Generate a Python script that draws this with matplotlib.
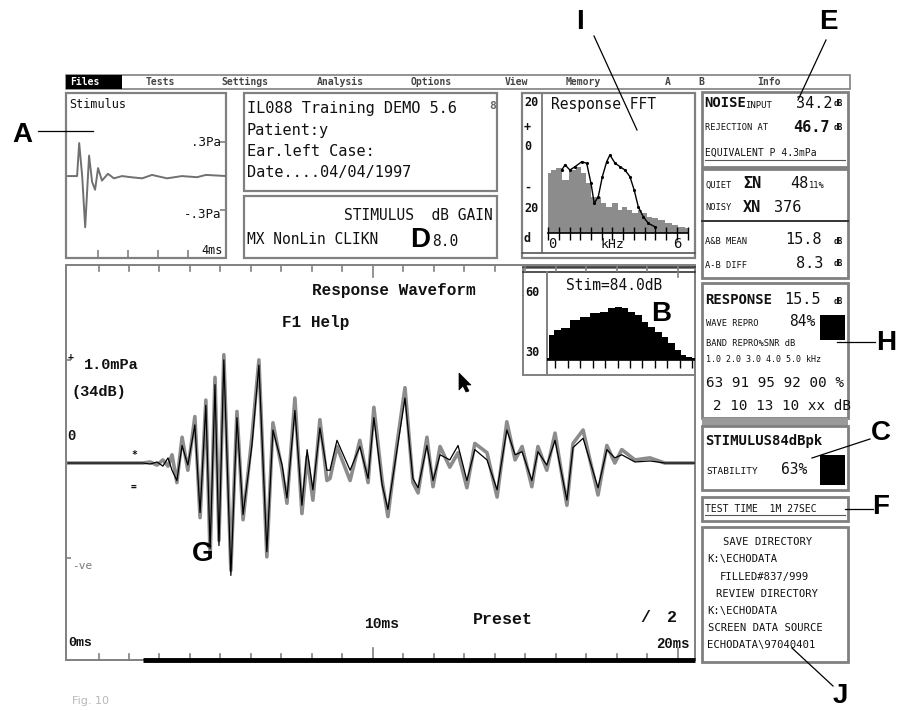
import matplotlib
matplotlib.use("Agg")
import matplotlib.pyplot as plt
import numpy as np
from matplotlib.patches import Rectangle, Polygon

W, H = 918, 710

# stimulus click (ms, Pa)
stim_t = [0.0, 0.30, 0.37, 0.47, 0.57, 0.70, 0.80, 0.90, 1.00, 1.13, 1.33, 1.53,
          1.80, 2.10, 2.47, 2.80, 3.30, 3.80, 4.30, 4.60, 5.30]
stim_pa = [0.0, 0.0, 0.29, 0.0, -0.45, 0.18, -0.05, -0.12, 0.07, -0.04, 0.02, -0.02,
           0.0, -0.01, -0.02, 0.01, -0.02, 0.0, -0.01, 0.01, 0.0]

# response waveform, buffers A (grey) and B (black) (ms, mPa)
resp_t = [0.00, 2.46, 2.69, 2.92, 3.11, 3.28, 3.41, 3.57, 3.74, 3.93,
          4.16, 4.33, 4.52, 4.66, 4.82, 4.95, 5.11, 5.34, 5.54, 5.74,
          6.03, 6.26, 6.52, 6.72, 7.02, 7.18, 7.44, 7.67, 7.84, 8.03,
          8.26, 8.49, 8.59, 8.82, 9.25, 9.57, 9.84, 10.03, 10.30, 10.49,
          10.79, 11.05, 11.31, 11.48, 11.77, 11.97, 12.20, 12.52, 12.79, 13.08,
          13.34, 13.74, 14.07, 14.39, 14.66, 14.89, 15.21, 15.41, 15.70, 15.97,
          16.36, 16.56, 16.89, 17.38, 17.67, 17.93, 18.16, 18.59, 19.08, 19.57,
          20.56]
resp_a = [0.00, 0.00, 0.01, -0.02, 0.03, -0.03, 0.08, -0.19, 0.25, -0.07,
          0.45, -0.53, 0.61, -0.91, 0.83, -0.75, 1.05, -1.04, 0.50, -0.55,
          0.25, 1.00, -0.91, 0.39, -0.07, -0.39, 0.63, -0.49, 0.06, -0.36,
          0.42, -0.17, -0.15, 0.16, -0.17, 0.22, -0.19, 0.54, -0.17, -0.52,
          0.19, 0.73, -0.19, -0.29, 0.25, -0.23, 0.16, -0.04, 0.10, -0.24,
          0.19, 0.10, -0.33, 0.40, 0.03, 0.16, -0.23, 0.16, -0.07, 0.29,
          -0.41, 0.19, 0.32, -0.31, 0.17, 0.00, 0.13, 0.03, 0.05, 0.00,
          0.00]
resp_b = [0.00, 0.00, -0.01, 0.01, -0.03, 0.05, -0.07, -0.17, 0.17, -0.02,
          0.37, -0.48, 0.56, -0.83, 0.76, -0.80, 1.00, -1.09, 0.44, -0.50,
          0.17, 0.95, -0.86, 0.32, -0.02, -0.34, 0.51, -0.41, 0.13, -0.26,
          0.34, -0.07, -0.07, 0.22, -0.07, 0.16, -0.15, 0.44, -0.21, -0.45,
          0.13, 0.63, -0.15, -0.24, 0.17, -0.17, 0.08, 0.03, 0.17, -0.17,
          0.13, 0.03, -0.26, 0.32, 0.08, 0.11, -0.17, 0.11, -0.02, 0.22,
          -0.36, 0.15, 0.24, -0.24, 0.13, 0.05, 0.08, 0.01, 0.02, 0.00,
          0.00]

# response FFT (kHz, dB): grey = response, line = noise
fft_f = [0.0, 0.25, 0.48, 0.79, 1.18, 1.41, 1.64, 1.88, 2.11, 2.34, 2.57, 2.80, 3.12,
         3.35, 3.58, 3.81, 4.05, 4.28, 4.51, 4.74, 4.98, 5.29, 5.60, 5.91, 6.22, 6.53]
fft_db = [-6.9, -5.8, -5.1, -9.6, -5.8, -4.5, -7.1, -10.9, -16.0, -16.0, -18.6, -19.9, -18.6,
          -21.2, -19.9, -21.2, -22.4, -21.2, -22.4, -23.7, -24.4, -25.0, -26.3, -26.9, -27.6, -28.2]
noise_f = [0.64, 0.79, 1.02, 1.26, 1.57, 1.80, 2.00, 2.15, 2.34, 2.53, 2.73, 2.88, 3.12,
           3.35, 3.58, 3.81, 4.01, 4.20, 4.43, 4.67, 4.98]
noise_db = [-5.8, -3.8, -5.8, -4.5, -2.6, -3.2, -10.9, -18.6, -16.0, -8.3, -2.6, 0.0, -3.2,
            -4.5, -5.8, -8.3, -13.5, -19.9, -23.7, -26.3, -27.6]

# stimulus spectrum (kHz, dB)
stim_f = [0.17, 0.37, 0.57, 0.9, 1.3, 1.7, 2.1, 2.5, 2.77, 3.03, 3.3, 3.57, 3.83, 4.1,
          4.37, 4.63, 4.9, 5.17, 5.43, 5.63, 5.83, 6.1]
stim_db = [30.9, 41.2, 43.5, 44.3, 47.9, 49.3, 51.1, 51.5, 53.3, 53.8, 53.3, 51.5, 50.2, 47.0,
           44.8, 42.6, 40.3, 37.6, 34.5, 32.2, 31.3, 30.9]

menu_items = ["Files", "Tests", "Settings", "Analysis", "Options", "View", "Memory", "A", "B", "Info"]
save_lines = ["SAVE DIRECTORY", "K:\\ECHODATA", "FILLED#837/999", "REVIEW DIRECTORY",
              "K:\\ECHODATA", "SCREEN DATA SOURCE", "ECHODATA\\97040401"]

GREY = "#808080"
MONO = "DejaVu Sans Mono"
SERIF = "Liberation Mono"

fig = plt.figure(figsize=(W / 100, H / 100), dpi=100)
fig.patch.set_facecolor("white")


def px_axes(x0, y0, x1, y1):
    ax = fig.add_axes([x0 / W, 1 - y1 / H, (x1 - x0) / W, (y1 - y0) / H])
    ax.set_axis_off()
    ax.patch.set_alpha(0)
    return ax


bg = px_axes(0, 0, W, H)
bg.set_xlim(0, W)
bg.set_ylim(H, 0)


def box(x0, y0, x1, y1, lw=1.6, ec=GREY, fc="none"):
    bg.add_patch(Rectangle((x0, y0), x1 - x0, y1 - y0, fill=(fc != "none"),
                           fc=fc, ec=ec, lw=lw))


def txt(x, y, s, size=9, weight="normal", ha="left", color="#111111", family=MONO):
    bg.text(x, y, s, fontsize=size, fontweight=weight, ha=ha, va="center",
            color=color, family=family)


# menu bar
box(66, 75, 850, 89, lw=1.2)
box(66, 75, 122, 89, lw=0, fc="black")
for lab, x in zip(menu_items, [70, 146, 221, 317, 411, 505, 566, 665, 698, 757]):
    txt(x, 82, lab, size=7, weight="bold", color="white" if lab == "Files" else "#444444")

# stimulus panel
box(66, 93, 226, 258)
txt(69, 104, "Stimulus", size=8.5)
txt(221, 142, ".3Pa", size=9, ha="right")
txt(221, 214, "-.3Pa", size=9, ha="right")
txt(223, 251, "4ms", size=8.5, ha="right")

# patient info
box(244, 93, 497, 191)
txt(247, 108, "IL088 Training DEMO 5.6", size=11)
bg.add_patch(Rectangle((466, 97), 20, 13, fc="white", ec="none"))
txt(489, 106, "8", size=8, weight="bold", color="#666666")
txt(247, 131, "Patient:y", size=11)
txt(247, 152, "Ear.left Case:", size=11)
txt(247, 173, "Date....04/04/1997", size=11)

box(244, 196, 497, 258)
txt(493, 215, "STIMULUS  dB GAIN", size=10.5, ha="right")
txt(247, 240, "MX NonLin CLIKN", size=10.5)
txt(432, 241, "8.0", size=10.5)

# FFT panel frame and labels
box(522, 93, 695, 258)
bg.plot([542, 542], [93, 252], color=GREY, lw=1.4)
bg.plot([522, 695], [253, 253], color="#555555", lw=1.2)
for y, s in [(103, "20"), (127, "+"), (147, "0"), (187, "-"), (209, "20"), (239, "d")]:
    txt(524, y, s, size=8.5, weight="bold")
txt(551, 104, "Response FFT", size=10.5)
txt(548, 244, "0", size=10)
txt(612, 244, "kHz", size=9.5, ha="center")
txt(677, 244, "6", size=10, ha="center")

# response waveform frame and labels
box(66, 265, 695, 660, lw=1.4)
txt(312, 290, "Response Waveform", size=11.5, weight="bold", family=SERIF)
txt(282, 323, "F1 Help", size=11.5, weight="bold", family=SERIF)
txt(68, 357, "+", size=7, weight="bold")
txt(84, 365, "1.0mPa", size=11, weight="bold", family=SERIF)
txt(72, 392, "(34dB)", size=11, weight="bold", family=SERIF)
txt(67, 436, "0", size=10, weight="bold", family=SERIF)
txt(131, 455, "*", size=7, weight="bold")
txt(131, 487, "=", size=7, weight="bold")
txt(72, 566, "-ve", size=8, color="#777777")
txt(68, 643, "0ms", size=9.5, weight="bold", family=SERIF)
txt(364, 624, "10ms", size=10.5, weight="bold", family=SERIF)
txt(473, 620, "Preset", size=12, weight="bold", family=SERIF)
txt(640, 618, "/", size=12, weight="bold", family=SERIF)
txt(667, 618, "2", size=12, weight="bold", family=SERIF)
txt(690, 644, "20ms", size=10, weight="bold", family=SERIF, ha="right")

# stimulus spectrum inset
box(523, 268, 695, 375, lw=1.4)
bg.plot([523, 695], [267, 267], color="#333333", lw=1.2)
bg.plot([523, 695], [272, 272], color="#333333", lw=1.2)
bg.plot([547, 547], [272, 375], color=GREY, lw=1.4)
txt(525, 293, "60", size=8.5, weight="bold")
txt(525, 353, "30", size=8.5, weight="bold")
txt(566, 285, "Stim=84.0dB", size=10.5)

# cursor
bg.add_patch(Polygon([(459, 373), (459, 390), (463, 386), (466, 392), (469, 391),
                      (466, 385), (471, 385)], closed=True, fc="black", ec="black", lw=0.5))

# right column: noise block
box(702, 92, 848, 167, lw=2)
txt(704, 103, "NOISE", size=10, weight="bold")
txt(745, 105, "INPUT", size=6.5)
txt(796, 103, "34.2", size=11)
txt(834, 104, "dB", size=5.5, weight="bold")
txt(705, 128, "REJECTION AT", size=6.3)
txt(793, 127, "46.7", size=11, weight="bold")
txt(834, 128, "dB", size=5.5, weight="bold")
txt(705, 153, "EQUIVALENT P 4.3mPa", size=7)
bg.plot([705, 845], [160, 160], color="#555555", lw=0.8)

box(702, 169, 848, 278, lw=2)
bg.plot([702, 848], [221, 221], color="#333333", lw=1.4)
txt(705, 185, "QUIET", size=6.3)
txt(743, 184, "ΣN", size=11, weight="bold")
txt(790, 184, "48", size=11)
txt(809, 186, "11%", size=6.3)
txt(705, 208, "NOISY", size=6.3)
txt(743, 207, "XN", size=11, weight="bold")
txt(774, 207, "376", size=11)
txt(705, 242, "A&B MEAN", size=6.3)
txt(785, 240, "15.8", size=11)
txt(834, 241, "dB", size=5.5, weight="bold")
txt(705, 265, "A-B DIFF", size=6.3)
txt(796, 263, "8.3", size=11)
txt(834, 264, "dB", size=5.5, weight="bold")

# response block
box(702, 283, 848, 418, lw=2)
txt(705, 300, "RESPONSE", size=10, weight="bold")
txt(784, 300, "15.5", size=11)
txt(834, 301, "dB", size=5.5, weight="bold")
txt(706, 323, "WAVE REPRO", size=6.3)
txt(789, 322, "84%", size=10.5)
box(820, 315, 845, 340, lw=0, fc="black")
txt(706, 343, "BAND REPRO%SNR dB", size=6.3)
txt(706, 360, "1.0 2.0 3.0 4.0 5.0 kHz", size=6)
txt(706, 383, "63 91 95 92 00 %", size=10.3)
txt(713, 406, "2 10 13 10 xx dB", size=10.3)
box(702, 418, 848, 426, lw=0, fc="#9a9a9a")

box(702, 426, 848, 490, lw=2)
txt(705, 441, "STIMULUS84dBpk", size=10, weight="bold")
txt(706, 472, "STABILITY", size=6.8)
txt(781, 470, "63%", size=10.5)
box(820, 455, 845, 485, lw=0, fc="black")

box(702, 497, 848, 521, lw=2)
txt(705, 509, "TEST TIME  1M 27SEC", size=7)
bg.plot([705, 845], [515, 515], color="#555555", lw=0.8)

box(702, 527, 848, 662, lw=2)
for (s, x), y in zip(zip(save_lines, [723, 707, 720, 716, 707, 708, 707]),
                     [542, 559, 577, 594, 611, 628, 645]):
    txt(x, y, s, size=7.6)

txt(72, 701, "Fig. 10", size=8, color="#b8b8b8", family="DejaVu Sans")

# stimulus trace
ax_s = px_axes(66, 93, 226, 258)
ax_s.set_xlim(-0.07, 5.27)
ax_s.set_ylim(-0.72, 0.73)
ax_s.plot(stim_t, stim_pa, color="#707070", lw=1.4)
ax_s.vlines([1, 2, 3, 4], 0, 0.05, transform=ax_s.get_xaxis_transform(), color=GREY, lw=1.2)
ax_s.hlines([0.3, -0.3], 0.965, 1.0, transform=ax_s.get_yaxis_transform(), color=GREY, lw=1.2)

# response waveform
ax_r = px_axes(66, 265, 695, 660)
ax_r.set_xlim(-0.066, 20.56)
ax_r.set_ylim(-1.91, 1.92)
ax_r.plot(resp_t, resp_a, color="#8c8c8c", lw=2.6)
ax_r.plot(resp_t, resp_b, color="black", lw=0.9)
ms_ticks = np.arange(1, 21)
tick_len = np.where(ms_ticks % 10 == 0, 0.03, 0.014)
for t, ln in zip(ms_ticks, tick_len):
    ax_r.plot([t, t], [1 - ln, 1], transform=ax_r.get_xaxis_transform(), color=GREY, lw=1.2)
    ax_r.plot([t, t], [0, ln], transform=ax_r.get_xaxis_transform(), color=GREY, lw=1.2)
ax_r.hlines([1.0, -0.92], 0, 0.008, transform=ax_r.get_yaxis_transform(), color=GREY, lw=1.2)
ax_r.hlines(0.0, resp_t[1], 20.56, transform=ax_r.get_xaxis_transform(),
            color="black", lw=3.5, clip_on=False)

# response FFT
ax_f = px_axes(542, 93, 695, 258)
ax_f.set_xlim(-0.28, 6.84)
ax_f.set_ylim(-39.6, 23.8)
ax_f.fill_between(fft_f, -30, fft_db, step="mid", color="#8c8c8c", lw=0)
ax_f.plot(noise_f, noise_db, color="black", lw=1.0, marker=".", ms=2.5)
ax_f.plot([0, 6.5], [-30, -30], color="black", lw=1.2)
ax_f.vlines(np.arange(0, 6.51, 0.5), -32.5, -27.5, color="black", lw=1.0)

# stimulus spectrum
ax_b = px_axes(547, 272, 695, 375)
ax_b.set_xlim(0.18, 6.1)
ax_b.set_ylim(23.3, 69.5)
ax_b.fill_between(stim_f, 30, stim_db, step="mid", color="black", lw=0)
ax_b.plot([0.18, 6.1], [30, 30], color="black", lw=1.2)
ax_b.vlines(np.arange(0.5, 6.01, 0.5), 26.5, 30, color="black", lw=1.0)

# callout letters
fg = px_axes(0, 0, W, H)
fg.set_xlim(0, W)
fg.set_ylim(H, 0)
callouts = [("A", 22, 135), ("I", 580, 22), ("E", 828, 22), ("D", 420, 240),
            ("B", 661, 314), ("H", 886, 343), ("C", 881, 433), ("F", 881, 507),
            ("G", 203, 554), ("J", 840, 696)]
for s, x, y in callouts:
    fg.text(x, y, s, fontsize=20, fontweight="bold", family="Liberation Sans",
            ha="center", va="center", color="black")
for (x0, y0), (x1, y1) in [((38, 131), (93, 131)), ((594, 36), (637, 130)),
                           ((826, 40), (798, 100)), ((837, 342), (875, 342)),
                           ((812, 458), (870, 439)), ((845, 509), (873, 509)),
                           ((792, 648), (833, 686))]:
    fg.plot([x0, x1], [y0, y1], color="black", lw=0.9)

fig.savefig("out.png", dpi=100)
